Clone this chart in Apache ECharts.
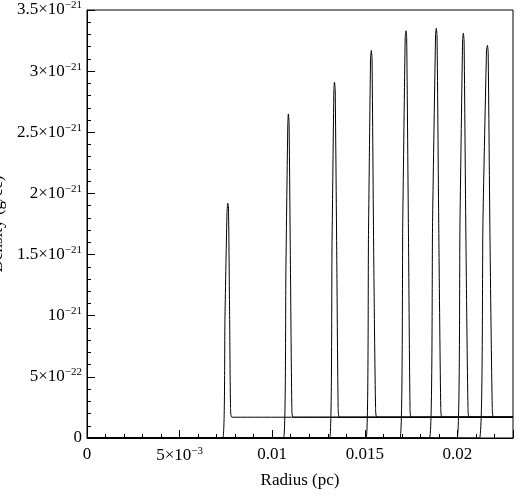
<!DOCTYPE html>
<html><head><meta charset="utf-8">
<script src="https://cdn.jsdelivr.net/npm/echarts@6/dist/echarts.min.js"></script>
<style>html,body{margin:0;padding:0;background:#fff}#c{width:520px;height:496px}</style>
</head><body><div id="c"></div>
<script>
// density values in units of 1e-21 g/cc; radius in pc
const xTicks = [0, 0.005, 0.01, 0.015, 0.02];
const yTicks = [0, 0.5, 1, 1.5, 2, 2.5, 3, 3.5];
const curve1 = [[0,0],[0.00733,0],[0.00745,1.0],[0.00756,1.85],[0.00760,1.92],[0.00764,1.88],[0.00770,1.0],[0.00775,0.25],[0.00782,0.17],[0.023,0.17]];
const curve2 = [[0,0],[0.01061,0],[0.01074,1.4],[0.01084,2.55],[0.01087,2.65],[0.01091,2.58],[0.01099,1.3],[0.01106,0.25],[0.01113,0.17],[0.023,0.17]];
const curve3 = [[0,0],[0.01310,0],[0.01323,1.6],[0.01333,2.85],[0.01336,2.91],[0.01340,2.85],[0.01349,1.4],[0.01356,0.25],[0.01364,0.17],[0.023,0.17]];
const curve4 = [[0,0],[0.01507,0],[0.01520,1.7],[0.01531,3.1],[0.01535,3.17],[0.01539,3.1],[0.01548,1.5],[0.01558,0.25],[0.01566,0.17],[0.023,0.17]];
const curve5 = [[0,0],[0.01690,0],[0.01705,1.8],[0.01718,3.28],[0.01722,3.33],[0.01726,3.27],[0.01736,1.6],[0.01744,0.25],[0.01751,0.17],[0.023,0.17]];
const curve6 = [[0,0],[0.01849,0],[0.01866,1.8],[0.01882,3.3],[0.01886,3.35],[0.01890,3.28],[0.01900,1.6],[0.01910,0.25],[0.01917,0.17],[0.023,0.17]];
const curve7 = [[0,0],[0.01998,0],[0.02014,1.8],[0.02028,3.26],[0.02032,3.31],[0.02036,3.24],[0.02046,1.6],[0.02057,0.25],[0.02065,0.17],[0.023,0.17]];
const curve8 = [[0,0],[0.02119,0],[0.02138,1.8],[0.02157,3.17],[0.02162,3.21],[0.02166,3.15],[0.02176,1.6],[0.02188,0.25],[0.02196,0.17],[0.023,0.17]];
const curves = [curve1,curve2,curve3,curve4,curve5,curve6,curve7,curve8];

const F = '"Liberation Serif","DejaVu Serif",serif';
const ch = echarts.init(document.getElementById('c'));
const rich = {b:{fontFamily:F,fontSize:17,color:'#000'},s:{fontFamily:F,fontSize:11,color:'#000',verticalAlign:'top',padding:[0,0,9,0]}};
ch.setOption({
  animation:false,
  grid:{left:87,right:7,top:10,bottom:58,containLabel:false,outerBoundsMode:'none',show:true,borderColor:'#000',borderWidth:1},
  xAxis:{type:'value',min:0,max:0.023,interval:0.005,name:'Radius (pc)',nameLocation:'middle',nameGap:34,
    nameTextStyle:{fontFamily:F,fontSize:17,color:'#000'},
    axisLine:{lineStyle:{color:'#000'}},axisTick:{inside:true,length:8,lineStyle:{color:'#000'}},
    minorTick:{show:true,splitNumber:5,length:4,lineStyle:{color:'#000'}},splitLine:{show:false},
    axisLabel:{color:'#000',margin:8,showMaxLabel:false,formatter:v=>{
      if(Math.abs(v-0.005)<1e-9) return '{b|5×10}{s|−3}';
      return '{b|'+(v===0?'0':+v.toFixed(3))+'}';},rich:rich}},
  yAxis:{type:'value',min:0,max:3.5,interval:0.5,name:'Density (g/cc)',nameLocation:'middle',nameGap:72,
    nameTextStyle:{fontFamily:F,fontSize:17,color:'#000'},
    axisLine:{lineStyle:{color:'#000'}},axisTick:{inside:true,length:8,lineStyle:{color:'#000'}},
    minorTick:{show:true,splitNumber:5,length:4,lineStyle:{color:'#000'}},splitLine:{show:false},
    axisLabel:{color:'#000',margin:5,formatter:v=>{
      if(v===0) return '{b|0}';
      if(Math.abs(v-0.5)<1e-9) return '{b|5×10}{s|−22}';
      if(Math.abs(v-1)<1e-9) return '{b|10}{s|−21}';
      return '{b|'+(+v.toFixed(1))+'×10}{s|−21}';},rich:rich}},
  series:curves.map(c=>({type:'line',data:c,showSymbol:false,smooth:0.2,lineStyle:{color:'#000',width:1}}))
});
</script></body></html>
